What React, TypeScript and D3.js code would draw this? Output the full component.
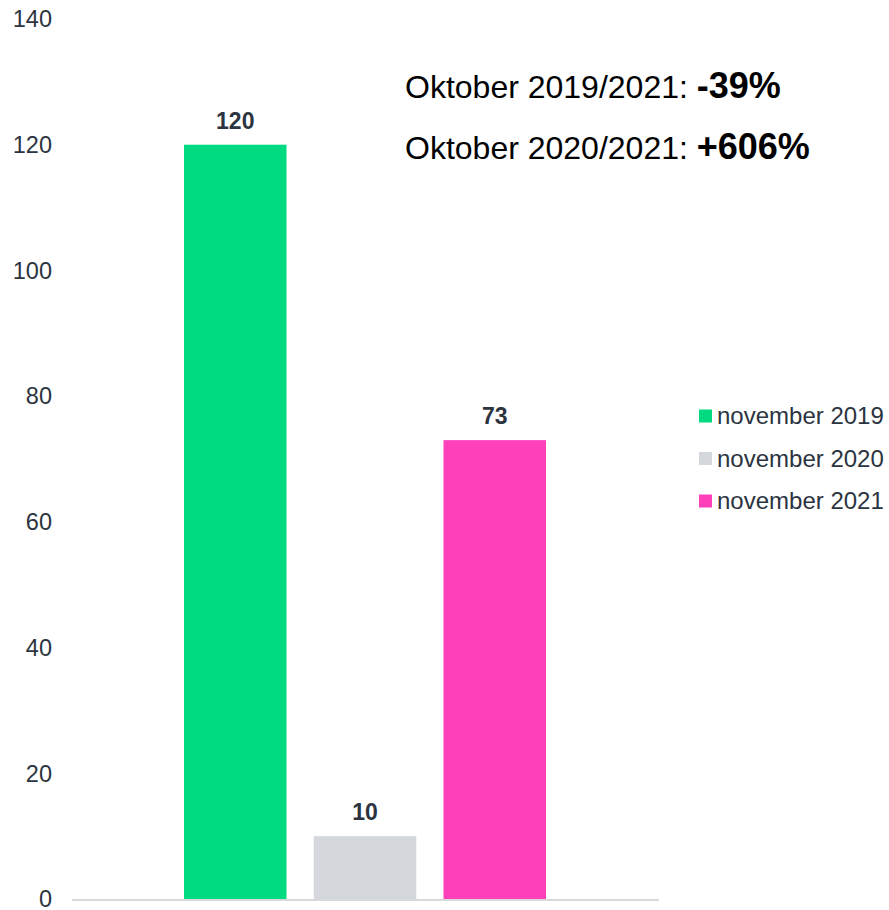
import React from "react";
import * as d3 from "d3";

const seriesNames = ["november 2019", "november 2020", "november 2021"];
const seriesValues = [120, 10, 73];
const seriesColors = ["#00DB82", "#D4D7DB", "#FF40BB"];
const yTicks = [0, 20, 40, 60, 80, 100, 120, 140];
const annotationLabels = ["Oktober 2019/2021: ", "Oktober 2020/2021: "];
const annotationValues = ["-39%", "+606%"];

const W = 889;
const H = 910;
const FONT = "Arial, 'Liberation Sans', Helvetica, sans-serif";
const TEXT = "#2B3440";

export default function App() {
  const y = d3.scaleLinear().domain([0, 140]).range([899, 19]);
  const x = d3
    .scaleBand<string>()
    .domain(seriesNames)
    .range([184, 546])
    .paddingInner(0.21)
    .paddingOuter(0);

  return (
    <svg
      width={W}
      height={H}
      style={{ position: "absolute", left: 0, top: 0, background: "#fff" }}
      fontFamily={FONT}
    >
      {yTicks.map((t) => (
        <text
          key={t}
          x={52}
          y={y(t)}
          dy="0.35em"
          textAnchor="end"
          fontSize={23.5}
          fill={TEXT}
        >
          {t}
        </text>
      ))}
      <line x1={72} x2={659} y1={y(0) + 1} y2={y(0) + 1} stroke="#D9D9D9" strokeWidth={2} />
      {seriesNames.map((s, i) => (
        <g key={s}>
          <rect
            x={x(s)}
            y={y(seriesValues[i])}
            width={x.bandwidth()}
            height={y(0) - y(seriesValues[i])}
            fill={seriesColors[i]}
          />
          <text
            x={(x(s) as number) + x.bandwidth() / 2}
            y={y(seriesValues[i]) - 16}
            textAnchor="middle"
            fontSize={23}
            fontWeight="bold"
            fill={TEXT}
          >
            {seriesValues[i]}
          </text>
        </g>
      ))}
      {seriesNames.map((s, i) => (
        <g key={"lg" + s} transform={`translate(699, ${416 + i * 42.5})`}>
          <rect x={0} y={-6.5} width={13} height={13} fill={seriesColors[i]} />
          <text x={18} y={0} dy="0.35em" fontSize={24} fill={TEXT}>
            {s}
          </text>
        </g>
      ))}
      {annotationLabels.map((a, i) => (
        <text key={a} x={405} y={98 + i * 61} fontSize={32} fill="#000">
          {a}
          <tspan fontWeight="bold" fontSize={36}>
            {annotationValues[i]}
          </tspan>
        </text>
      ))}
    </svg>
  );
}
